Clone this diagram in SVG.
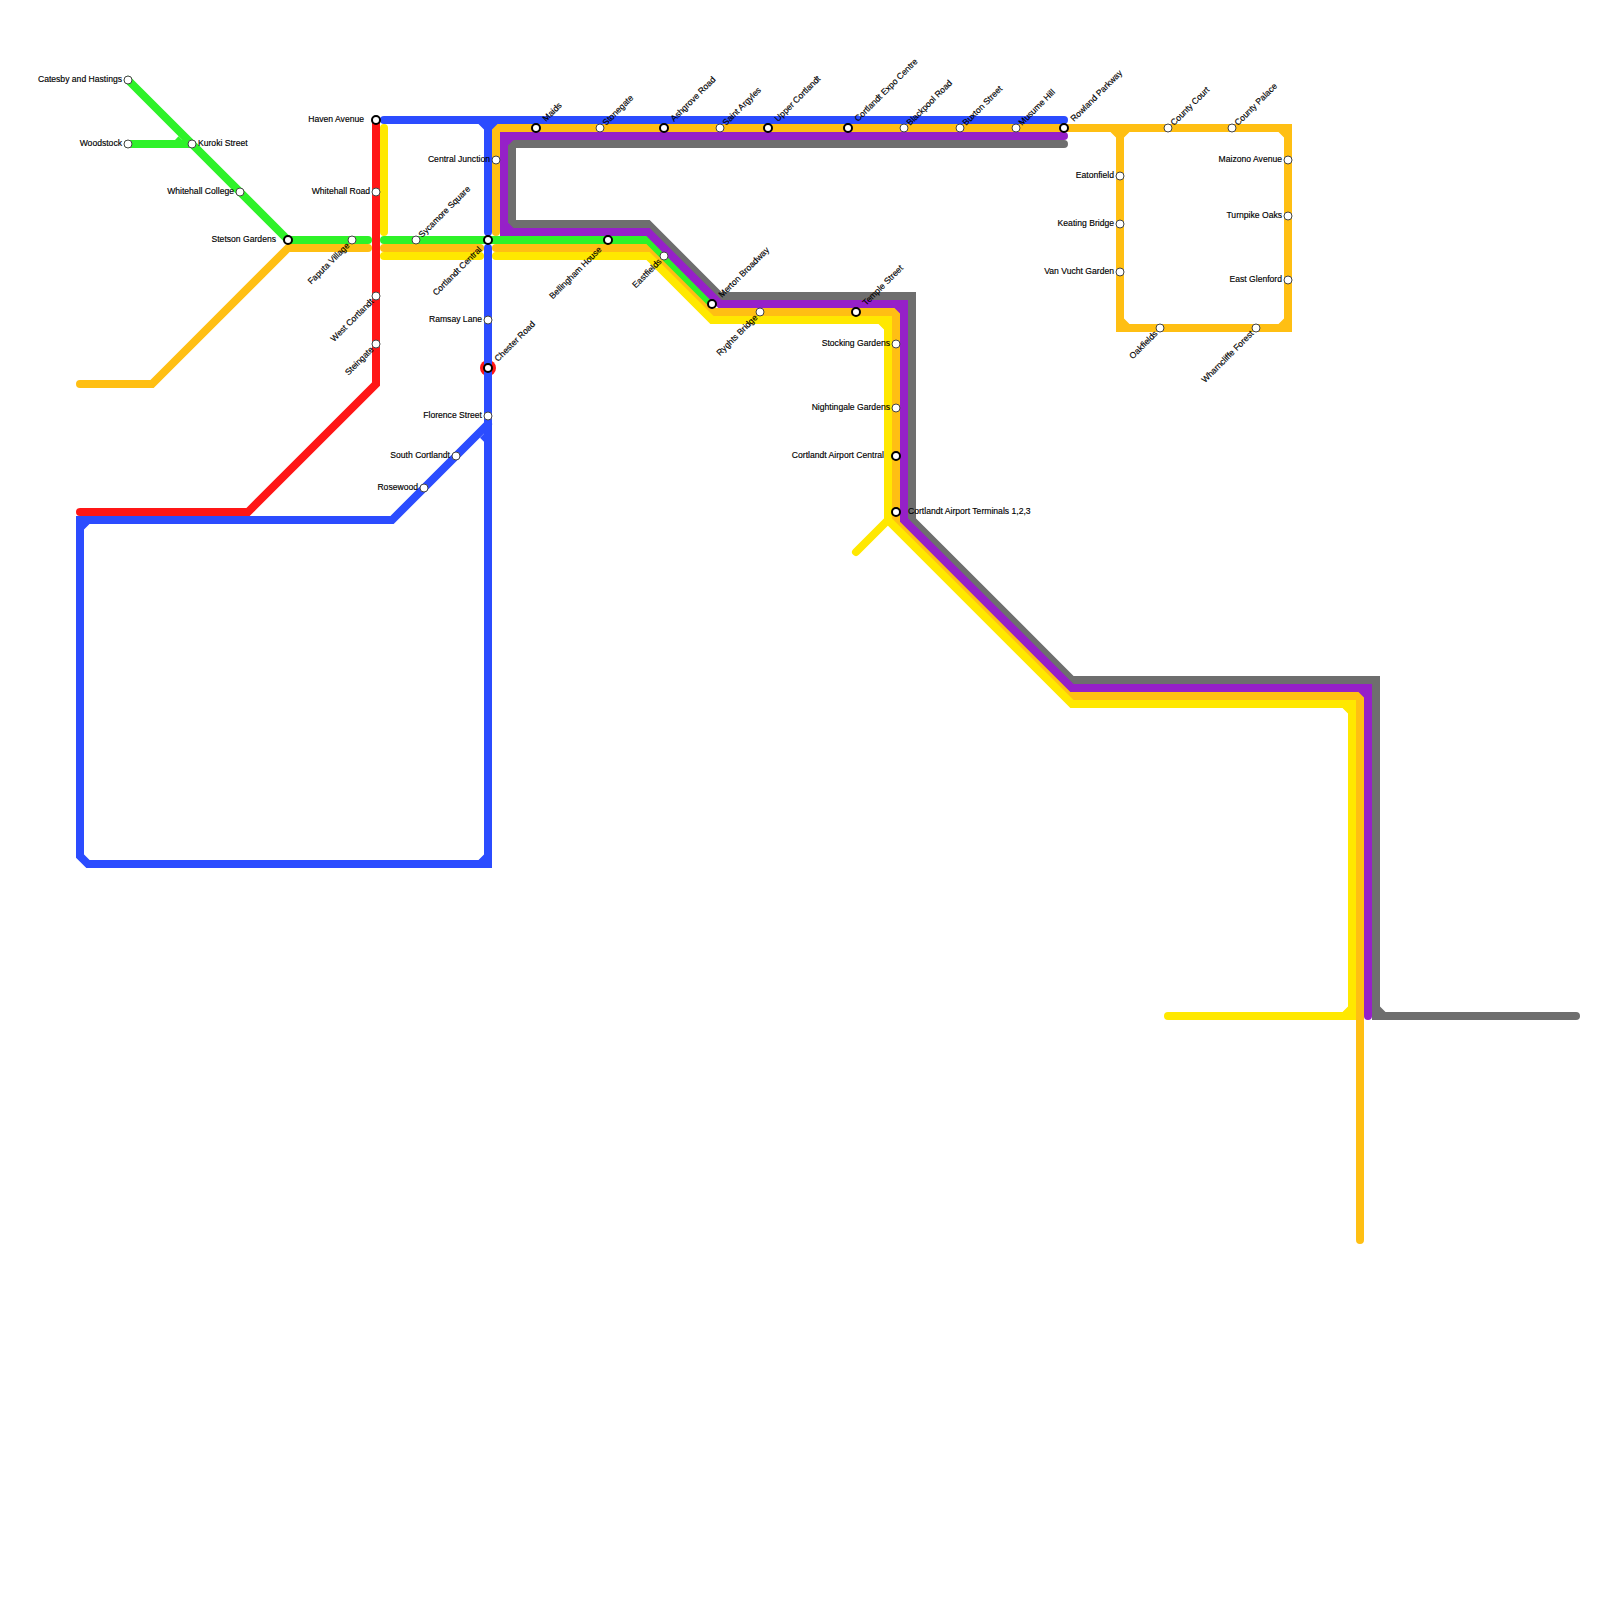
<svg xmlns="http://www.w3.org/2000/svg" width="1600" height="1600" viewBox="0 0 1600 1600">
<style>
.l{fill:none;stroke-width:8;stroke-linecap:round;stroke-linejoin:miter}
.gray{stroke:#6e6e6e}.orange{stroke:#ffbf13}.green{stroke:#2ef229}.yellow{stroke:#ffe800}.purple{stroke:#9620c8}.blue{stroke:#2b4cff}.red{stroke:#ff1616}
.fgray{fill:#6e6e6e}.forange{fill:#ffbf13}.fgreen{fill:#2ef229}.fyellow{fill:#ffe800}.fpurple{fill:#9620c8}.fblue{fill:#2b4cff}
.s{fill:#fff;stroke:#444;stroke-width:1}
.i{fill:#fff;stroke:#000;stroke-width:2}
text{font-family:"Liberation Sans",Arial,sans-serif;font-size:8.6px;fill:#000;stroke:#000;stroke-width:.15}
.e{text-anchor:end}
</style>
<g id="connectors">
<path class="l red" d="M376 120V384L248 512H80"/>
<circle cx="488" cy="368" r="8" fill="#ff1616"/>
<path class="l gray" d="M1064 144H512V224H648L720 296H912V520L1072 680H1376V1016H1576"/>
<path class="fgray" d="M1380 1012v-5.500l5.500 5.500z"/>
<path class="l orange" d="M80 384H152L288 248H368M384 248H480M496 232V128H1288V328H1120V128M496 248H648L712 312H896V520L1072 696H1360V1240"/>
<path class="forange" d="M1116 132h-5.500l5.500 5.500zM1124 132h5.500l-5.500 5.500zM1284 132h-5.500l5.500 5.500zM1284 324h-5.500l5.500-5.500zM1124 324h5.500l-5.500-5.500z"/>
<path class="l green" d="M128 80L288 240H368M128 144H192M384 240H648L712 304"/>
<path class="fgreen" d="M175 140h7.300l-3.800-3.800z"/>
<path class="l yellow" d="M384 128V232M384 256H480M496 256H648L712 320H888V520L1072 704H1352V1016H1168M888 520L856 552"/>
<path class="fyellow" d="M884 324h-5.500l5.500 5.500zM1348 708h-5.500l5.500 5.500zM1348 1012h-5.500l5.500-5.500z"/>
<path class="l purple" d="M1064 136H504V232H648L720 304H904V520L1072 688H1368V1016"/>
<path class="fpurple" d="M508 140h5.500l-5.500 5.500zM508 228h5.500l-5.500-5.500zM900 308h-5.500l5.500 5.500zM1364 692h-5.500l5.500 5.500z"/>
<path class="l blue" d="M384 120H1064M488 120V232M488 248V864H88L80 856V520H392L488 424"/>
<path class="fblue" d="M484 124h-5.500l5.500 5.500zM492 124h5.500l-5.500 5.500zM84 524h5.500l-5.500 5.500zM484 860h-5.500l5.500-5.500zM484 433.700v8l-4-4z"/>
</g>
<g id="n-catesby"><circle class="s" cx="128" cy="80" r="4"/><text class="e" x="122" y="82">Catesby and Hastings</text></g>
<g id="n-woodstock"><circle class="s" cx="128" cy="144" r="4"/><text class="e" x="122" y="146">Woodstock</text></g>
<g id="n-kuroki"><circle class="s" cx="192" cy="144" r="4"/><text x="198" y="146">Kuroki Street</text></g>
<g id="n-whitehall-college"><circle class="s" cx="240" cy="192" r="4"/><text class="e" x="234" y="194">Whitehall College</text></g>
<g id="n-stetson"><circle class="i" cx="288" cy="240" r="4"/><text class="e" x="276" y="242">Stetson Gardens</text></g>
<g id="n-faputa"><circle class="s" cx="352" cy="240" r="4"/><text class="e" transform="translate(348 244) rotate(-45)" y="3">Faputa Village</text></g>
<g id="n-sycamore"><circle class="s" cx="416" cy="240" r="4"/><text transform="translate(420 236) rotate(-45)" y="3">Sycamore Square</text></g>
<g id="n-cortlandt-central"><circle class="i" cx="488" cy="240" r="4"/><text class="e" transform="translate(480 248) rotate(-45)" y="3">Cortlandt Central</text></g>
<g id="n-haven"><circle class="i" cx="376" cy="120" r="4"/><text class="e" x="364" y="122">Haven Avenue</text></g>
<g id="n-whitehall-road"><circle class="s" cx="376" cy="192" r="4"/><text class="e" x="370" y="194">Whitehall Road</text></g>
<g id="n-west-cortlandt"><circle class="s" cx="376" cy="296" r="4"/><text class="e" transform="translate(372 300) rotate(-45)" y="3">West Cortlandt</text></g>
<g id="n-steingate"><circle class="s" cx="376" cy="344" r="4"/><text class="e" transform="translate(372 348) rotate(-45)" y="3">Steingate</text></g>
<g id="n-ramsay"><circle class="s" cx="488" cy="320" r="4"/><text class="e" x="482" y="322">Ramsay Lane</text></g>
<g id="n-chester"><circle class="i" cx="488" cy="368" r="4"/><text transform="translate(496 360) rotate(-45)" y="3">Chester Road</text></g>
<g id="n-florence"><circle class="s" cx="488" cy="416" r="4"/><text class="e" x="482" y="418">Florence Street</text></g>
<g id="n-south-cortlandt"><circle class="s" cx="456" cy="456" r="4"/><text class="e" x="450" y="458">South Cortlandt</text></g>
<g id="n-rosewood"><circle class="s" cx="424" cy="488" r="4"/><text class="e" x="418" y="490">Rosewood</text></g>
<g id="n-central-junction"><circle class="s" cx="496" cy="160" r="4"/><text class="e" x="490" y="162">Central Junction</text></g>
<g id="n-maids"><circle class="i" cx="536" cy="128" r="4"/><text transform="translate(544 120) rotate(-45)" y="3">Maids</text></g>
<g id="n-stonegate"><circle class="s" cx="600" cy="128" r="4"/><text transform="translate(604 124) rotate(-45)" y="3">Stonegate</text></g>
<g id="n-ashgrove"><circle class="i" cx="664" cy="128" r="4"/><text transform="translate(672 120) rotate(-45)" y="3">Ashgrove Road</text></g>
<g id="n-saint-argyles"><circle class="s" cx="720" cy="128" r="4"/><text transform="translate(724 124) rotate(-45)" y="3">Saint Argyles</text></g>
<g id="n-upper-cortlandt"><circle class="i" cx="768" cy="128" r="4"/><text transform="translate(776 120) rotate(-45)" y="3">Upper Cortlandt</text></g>
<g id="n-expo"><circle class="i" cx="848" cy="128" r="4"/><text transform="translate(856 120) rotate(-45)" y="3">Cortlandt Expo Centre</text></g>
<g id="n-blackpool"><circle class="s" cx="904" cy="128" r="4"/><text transform="translate(908 124) rotate(-45)" y="3">Blackpool Road</text></g>
<g id="n-buxton"><circle class="s" cx="960" cy="128" r="4"/><text transform="translate(964 124) rotate(-45)" y="3">Buxton Street</text></g>
<g id="n-musume"><circle class="s" cx="1016" cy="128" r="4"/><text transform="translate(1020 124) rotate(-45)" y="3">Musume Hill</text></g>
<g id="n-rowland"><circle class="i" cx="1064" cy="128" r="4"/><text transform="translate(1072 120) rotate(-45)" y="3">Rowland Parkway</text></g>
<g id="n-county-court"><circle class="s" cx="1168" cy="128" r="4"/><text transform="translate(1172 124) rotate(-45)" y="3">County Court</text></g>
<g id="n-county-palace"><circle class="s" cx="1232" cy="128" r="4"/><text transform="translate(1236 124) rotate(-45)" y="3">County Palace</text></g>
<g id="n-maizono"><circle class="s" cx="1288" cy="160" r="4"/><text class="e" x="1282" y="162">Maizono Avenue</text></g>
<g id="n-turnpike"><circle class="s" cx="1288" cy="216" r="4"/><text class="e" x="1282" y="218">Turnpike Oaks</text></g>
<g id="n-glenford"><circle class="s" cx="1288" cy="280" r="4"/><text class="e" x="1282" y="282">East Glenford</text></g>
<g id="n-eatonfield"><circle class="s" cx="1120" cy="176" r="4"/><text class="e" x="1114" y="178">Eatonfield</text></g>
<g id="n-keating"><circle class="s" cx="1120" cy="224" r="4"/><text class="e" x="1114" y="226">Keating Bridge</text></g>
<g id="n-van-vucht"><circle class="s" cx="1120" cy="272" r="4"/><text class="e" x="1114" y="274">Van Vucht Garden</text></g>
<g id="n-oakfields"><circle class="s" cx="1160" cy="328" r="4"/><text class="e" transform="translate(1156 332) rotate(-45)" y="3">Oakfields</text></g>
<g id="n-wharncliffe"><circle class="s" cx="1256" cy="328" r="4"/><text class="e" transform="translate(1252 332) rotate(-45)" y="3">Wharncliffe Forest</text></g>
<g id="n-bellingham"><circle class="i" cx="608" cy="240" r="4"/><text class="e" transform="translate(600 248) rotate(-45)" y="3">Bellingham House</text></g>
<g id="n-eastfields"><circle class="s" cx="664" cy="256" r="4"/><text class="e" transform="translate(660 260) rotate(-45)" y="3">Eastfields</text></g>
<g id="n-merton"><circle class="i" cx="712" cy="304" r="4"/><text transform="translate(720 296) rotate(-45)" y="3">Merton Broadway</text></g>
<g id="n-ryghts"><circle class="s" cx="760" cy="312" r="4"/><text class="e" transform="translate(756 316) rotate(-45)" y="3">Ryghts Bridge</text></g>
<g id="n-temple"><circle class="i" cx="856" cy="312" r="4"/><text transform="translate(864 304) rotate(-45)" y="3">Temple Street</text></g>
<g id="n-stocking"><circle class="s" cx="896" cy="344" r="4"/><text class="e" x="890" y="346">Stocking Gardens</text></g>
<g id="n-nightingale"><circle class="s" cx="896" cy="408" r="4"/><text class="e" x="890" y="410">Nightingale Gardens</text></g>
<g id="n-airport-central"><circle class="i" cx="896" cy="456" r="4"/><text class="e" x="884" y="458">Cortlandt Airport Central</text></g>
<g id="n-terminals"><circle class="i" cx="896" cy="512" r="4"/><text x="908" y="514">Cortlandt Airport Terminals 1,2,3</text></g>
</svg>
